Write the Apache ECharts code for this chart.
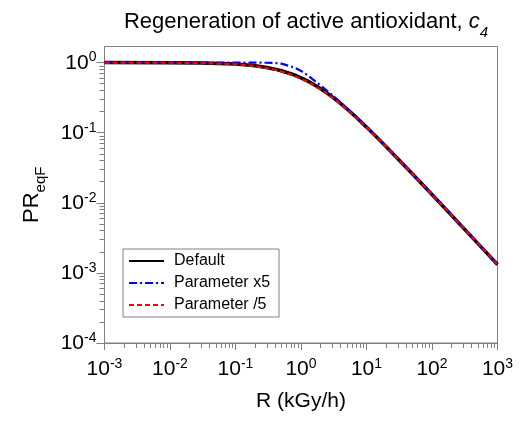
<!DOCTYPE html>
<html>
<head>
<meta charset="utf-8">
<script src="https://cdn.jsdelivr.net/npm/echarts@6/dist/echarts.min.js"></script>
<style>html,body{margin:0;padding:0;background:#fff}#c{width:526px;height:421px}</style>
</head>
<body>
<div id="c"></div>
<script>
// Data
var R = [0.001,0.01,0.03,0.1,0.15,0.2,0.3,0.4,0.5,0.7,0.85,1,1.25,1.5,2,2.5,3,4,5,7,10,15,20,50,100,200,500,1000];
var prDefault = [1.0,0.996,0.986,0.950,0.925,0.898,0.850,0.805,0.764,0.693,0.648,0.605,0.548,0.498,0.423,0.367,0.323,0.261,0.219,0.165,0.120,0.0825,0.0631,0.0260,0.0131,0.00658,0.00264,0.00132];
var prX5 = [1.0,1.0,1.0,0.999,0.998,0.997,0.993,0.985,0.965,0.88,0.82,0.76,0.665,0.58,0.47,0.395,0.345,0.272,0.222,0.166,0.121,0.0830,0.0632,0.0260,0.0131,0.00658,0.00264,0.00132];
var prDiv5 = [1.0,0.995,0.985,0.945,0.918,0.89,0.835,0.79,0.745,0.672,0.628,0.585,0.532,0.482,0.41,0.357,0.315,0.256,0.214,0.162,0.119,0.0820,0.0628,0.0259,0.0131,0.00658,0.00264,0.00132];
var seriesNames = ['Default','Parameter x5','Parameter /5'];
var xExponents = [-3,-2,-1,0,1,2,3];
var yExponents = [-4,-3,-2,-1,0];

function lg(v){ return Math.log(v)/Math.LN10; }
function pairs(xs, ys){ return xs.map(function(x,i){ return [lg(x), lg(ys[i])]; }); }
function minorVals(lo, hi){
  var out=[];
  for (var e=lo; e<hi; e++) for (var k=2;k<=9;k++) out.push(e+lg(k));
  return out;
}
var FONT = 'Liberation Sans, Arial, sans-serif';
var gray = '#808080';
var supRich = {
  b:{fontSize:21,fontFamily:FONT,color:'#000',lineHeight:22,verticalAlign:'bottom'},
  s:{fontSize:14,fontFamily:FONT,color:'#000',lineHeight:14,padding:[0,0,9,0],verticalAlign:'bottom'}
};
function powFmt(v){ return '{b|10}{s|' + String(Math.round(v)) + '}'; }

var chart = echarts.init(document.getElementById('c'), null, {renderer:'canvas'});
chart.setOption({
  animation:false,
  backgroundColor:'#fff',
  title:{
    text:'{t|Regeneration of active antioxidant, }{c|c}{u|4}',
    left:301, textAlign:'center', top:6,
    textStyle:{fontWeight:'normal',rich:{
      t:{fontSize:22,fontFamily:FONT,fontWeight:'normal',color:'#000',lineHeight:26,verticalAlign:'top'},
      c:{fontSize:22,fontFamily:FONT,fontWeight:'normal',fontStyle:'italic',color:'#000',lineHeight:26,verticalAlign:'top'},
      u:{fontSize:15,fontFamily:FONT,fontWeight:'normal',fontStyle:'italic',color:'#000',lineHeight:14,padding:[14,0,0,0],verticalAlign:'top'}
    }}
  },
  grid:{left:104.5, top:46.5, right:28.5, bottom:78, show:true, borderColor:gray, borderWidth:1, backgroundColor:'#fff'},
  legend:{
    orient:'vertical', left:123, top:249,
    data:seriesNames,
    itemWidth:35, itemHeight:14, itemGap:6,
    padding:[4,9,4,5],
    backgroundColor:'#fff', borderColor:gray, borderWidth:1, borderRadius:0,
    itemStyle:{opacity:0},
    textStyle:{fontSize:16,fontFamily:FONT,color:'#000',padding:[0,0,0,5]}
  },
  xAxis:[{
    type:'value', min:-3, max:3, interval:1, position:'bottom',
    name:'R (kGy/h)', nameLocation:'middle', nameGap:48,
    nameTextStyle:{fontSize:21,fontFamily:FONT,color:'#000'},
    axisLine:{onZero:false,lineStyle:{color:gray,width:1}},
    axisTick:{show:true,inside:false,length:7,lineStyle:{color:gray},customValues:xExponents},
    axisLabel:{margin:15,formatter:powFmt,rich:supRich,customValues:xExponents},
    splitLine:{show:false}
  },{
    type:'value', min:-3, max:3, position:'bottom',
    axisLine:{show:false,onZero:false},
    axisTick:{show:true,inside:false,length:5,lineStyle:{color:gray},customValues:minorVals(-3,3)},
    axisLabel:{show:false}, splitLine:{show:false}
  }],
  yAxis:[{
    type:'value', min:-4, max:0.229, interval:1, position:'left',
    name:'{p|PR}{q|eqF}', nameLocation:'middle', nameGap:58, nameRotate:90,
    nameTextStyle:{rich:{
      p:{fontSize:22,fontFamily:FONT,color:'#000',lineHeight:26,verticalAlign:'top'},
      q:{fontSize:15,fontFamily:FONT,color:'#000',lineHeight:14,padding:[13,0,0,0],verticalAlign:'top'}
    }},
    axisLine:{onZero:false,lineStyle:{color:gray,width:1}},
    axisTick:{show:true,inside:false,length:8,lineStyle:{color:gray},customValues:yExponents},
    axisLabel:{margin:8,formatter:powFmt,rich:supRich,customValues:yExponents},
    splitLine:{show:false}
  },{
    type:'value', min:-4, max:0.229, position:'left',
    axisLine:{show:false,onZero:false},
    axisTick:{show:true,inside:false,length:5,lineStyle:{color:gray},customValues:minorVals(-4,0).concat([lg(2),lg(3),lg(4)].filter(function(v){return v<0.229;}))},
    axisLabel:{show:false}, splitLine:{show:false}
  }],
  series:[
    {name:seriesNames[0],type:'line',data:pairs(R,prDefault),symbol:'none',
     lineStyle:{color:'#000',width:3.5,type:'solid'},itemStyle:{color:'#000'},z:2},
    {name:seriesNames[1],type:'line',data:pairs(R,prX5),symbol:'none',
     lineStyle:{color:'#0000ff',width:2.2,type:[8,3,2,3]},itemStyle:{color:'#0000ff'},z:3},
    {name:seriesNames[2],type:'line',data:pairs(R,prDiv5),symbol:'none',
     lineStyle:{color:'#ff0000',width:2.2,type:[5,3]},itemStyle:{color:'#ff0000'},z:4}
  ]
});
</script>
</body>
</html>
